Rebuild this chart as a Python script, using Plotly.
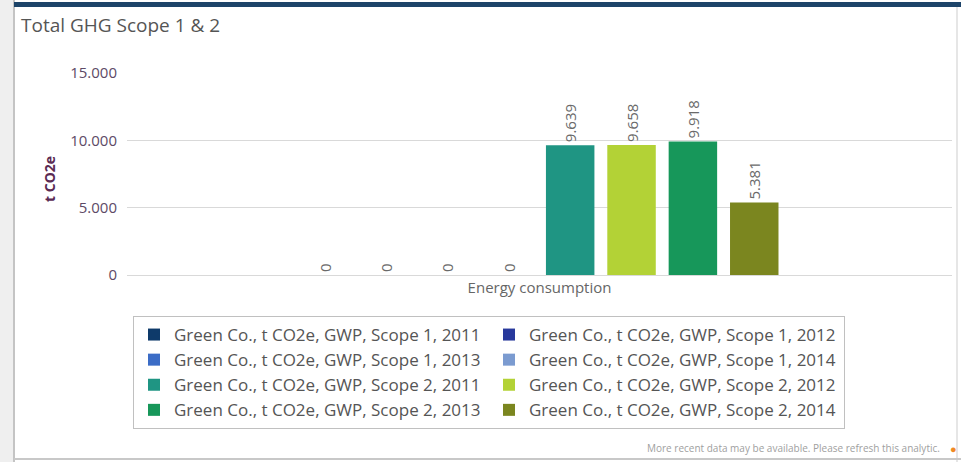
import plotly.graph_objects as go

category = ["Energy consumption"]
series_names = [
    "Green Co., t CO2e, GWP, Scope 1, 2011",
    "Green Co., t CO2e, GWP, Scope 1, 2012",
    "Green Co., t CO2e, GWP, Scope 1, 2013",
    "Green Co., t CO2e, GWP, Scope 1, 2014",
    "Green Co., t CO2e, GWP, Scope 2, 2011",
    "Green Co., t CO2e, GWP, Scope 2, 2012",
    "Green Co., t CO2e, GWP, Scope 2, 2013",
    "Green Co., t CO2e, GWP, Scope 2, 2014",
]
series_values = [0, 0, 0, 0, 9639, 9658, 9918, 5381]
series_colors = ["#0e3a6a", "#28399c", "#3b6cc6", "#7b9bd0",
                 "#1f9583", "#b3d236", "#17975a", "#7b861f"]
y_ticks = [0, 5000, 10000, 15000]

W, H = 961, 462
L, R, T, B = 127, 952, 73, 275  # plot area in pixels
FONT = "Open Sans"


def px_x(p):
    return (p - L) / (R - L)


def px_y(p):
    return (B - p) / (B - T)


fig = go.Figure()
for name, val, col in zip(series_names, series_values, series_colors):
    fig.add_trace(go.Bar(
        x=category, y=[val], name=name, marker_color=col, marker_line_width=0,
        texttemplate="%{y:,}", textposition="outside", textangle=-90,
        textfont=dict(size=15, color="#6a6a6a", family=FONT),
        cliponaxis=False,
    ))

shapes = [
    dict(type="rect", xref="paper", yref="paper", x0=px_x(0), x1=px_x(13),
         y0=px_y(H), y1=px_y(0), fillcolor="#efefef", line_width=0, layer="below"),
    dict(type="line", xref="paper", yref="paper", x0=px_x(14), x1=px_x(14),
         y0=px_y(H), y1=px_y(0), line=dict(color="#c4c4c4", width=2)),
    dict(type="rect", xref="paper", yref="paper", x0=px_x(14), x1=px_x(W),
         y0=px_y(7), y1=px_y(2), fillcolor="#1d4469", line_width=0),
    dict(type="line", xref="paper", yref="paper", x0=px_x(957), x1=px_x(957),
         y0=px_y(H), y1=px_y(7), line=dict(color="#e6e6e6", width=2)),
    dict(type="line", xref="paper", yref="paper", x0=px_x(14), x1=px_x(W),
         y0=px_y(459), y1=px_y(459), line=dict(color="#c8c8c8", width=2)),
]

annotations = [
    dict(text="<b>t CO2e</b>", xref="paper", yref="paper", x=px_x(49), y=px_y(179),
         textangle=-90, showarrow=False, xanchor="center", yanchor="middle",
         font=dict(size=14, color="#5a2a52", family=FONT)),
    dict(text="More recent data may be available. Please refresh this analytic.",
         xref="paper", yref="paper", x=px_x(942), y=px_y(448), showarrow=False,
         xanchor="right", yanchor="middle",
         font=dict(size=10, color="#a0a0a0", family=FONT)),
    dict(text="●", xref="paper", yref="paper", x=px_x(953), y=px_y(448),
         showarrow=False, xanchor="center", yanchor="middle",
         font=dict(size=11, color="#f08a24")),
]

fig.update_layout(
    width=W, height=H,
    margin=dict(l=L, r=W - R, t=T, b=H - B, pad=0),
    paper_bgcolor="white", plot_bgcolor="white",
    separators=",.",
    barmode="group", bargap=0.405, bargroupgap=0.21,
    title=dict(text="Total GHG Scope 1 & 2", xref="container", yref="container",
               x=21 / W, y=1 - 25 / H, xanchor="left", yanchor="middle",
               font=dict(size=19, color="#555555", family=FONT)),
    font=dict(family=FONT, color="#555555"),
    xaxis=dict(showgrid=False, showline=False, ticks="",
               tickfont=dict(size=15, color="#666666", family=FONT),
               ticklabelstandoff=2),
    yaxis=dict(range=[0, 15000], tickvals=y_ticks, tickformat=",",
               gridcolor="#d9d9d9", gridwidth=1, zeroline=True,
               zerolinecolor="#d9d9d9", zerolinewidth=1, showline=False,
               tickfont=dict(size=15, color="#5d4a66", family=FONT),
               ticklabelstandoff=9),
    showlegend=True,
    legend=dict(orientation="h", xref="container", yref="container",
                x=133 / W, y=1 - 316 / H, xanchor="left", yanchor="top",
                entrywidth=310, traceorder="normal",
                bordercolor="#c0c0c0", borderwidth=1, bgcolor="white",
                font=dict(size=17, color="#555555", family=FONT),
                itemsizing="constant"),
    shapes=shapes, annotations=annotations,
)

fig.write_html("out.html", config={"displayModeBar": False},
               post_script="document.body.style.margin='0';"
               "document.body.style.padding='0';")
